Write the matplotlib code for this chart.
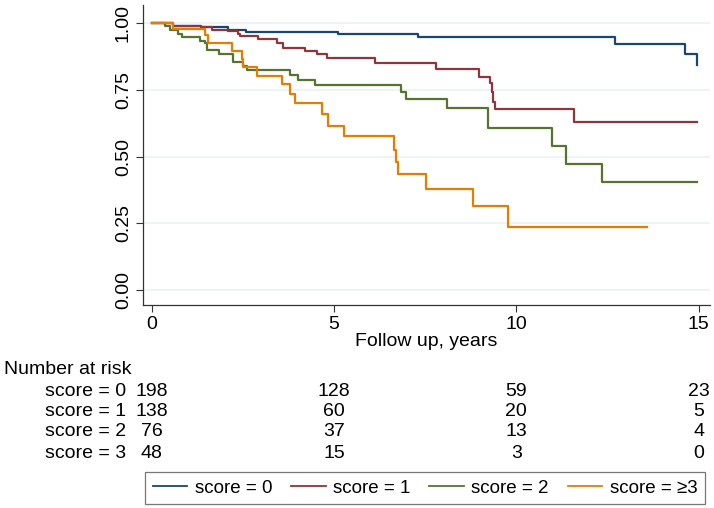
import matplotlib
matplotlib.use("Agg")
import matplotlib.pyplot as plt
from matplotlib.lines import Line2D
import matplotlib.transforms as mtransforms

plt.rcParams['font.family'] = ['Liberation Sans', 'DejaVu Sans']

# ===========================
# Survival curves
# ===========================
t0 = [0, 0.6, 1.37, 2.1, 2.6, 5.12, 7.3, 12.7, 14.63, 14.94]
s0 = [1.0, 0.991, 0.987, 0.977, 0.966, 0.959, 0.948, 0.921, 0.884, 0.844]

t1 = [0, 0.6, 1.37, 1.65, 2.1, 2.38, 2.42, 2.93, 3.43, 3.61, 4.2, 4.53, 4.82,
      6.12, 7.81, 8.97, 9.27, 9.32, 9.36, 9.41, 11.58, 14.94]
s1 = [1.0, 0.99, 0.987, 0.977, 0.971, 0.962, 0.952, 0.94, 0.927, 0.909, 0.896,
      0.884, 0.869, 0.852, 0.829, 0.80, 0.775, 0.744, 0.706, 0.678, 0.63, 0.63]

t2 = [0, 0.37, 0.5, 0.73, 0.83, 1.33, 1.47, 1.51, 1.86, 2.24, 2.52, 2.61, 3.79,
      4.02, 4.48, 6.85, 6.97, 8.09, 9.23, 10.98, 11.36, 12.35, 14.94]
s2 = [1.0, 0.991, 0.977, 0.962, 0.95, 0.935, 0.925, 0.902, 0.887, 0.856, 0.84,
      0.825, 0.806, 0.787, 0.769, 0.744, 0.716, 0.681, 0.609, 0.54, 0.471, 0.404, 0.404]

t3 = [0, 0.6, 1.47, 1.56, 2.2, 2.47, 2.52, 2.9, 3.57, 3.79, 3.93, 4.66, 4.84,
      5.28, 6.64, 6.7, 6.76, 7.51, 8.82, 9.78, 13.57]
s3 = [1.0, 0.979, 0.956, 0.925, 0.897, 0.868, 0.837, 0.802, 0.772, 0.735, 0.702,
      0.66, 0.616, 0.577, 0.525, 0.481, 0.434, 0.379, 0.315, 0.235, 0.235]

# ===========================
# Number at risk table
# ===========================
risk_times = [0, 5, 10, 15]
risk_labels = ['score = 0', 'score = 1', 'score = 2', 'score = 3']
risk_0 = [198, 128, 59, 23]
risk_1 = [138, 60, 20, 5]
risk_2 = [76, 37, 13, 4]
risk_3 = [48, 15, 3, 0]

legend_labels = ['score = 0', 'score = 1', 'score = 2', 'score = \u22653']
colors = ['#1a476f', '#90353b', '#55752f', '#e37e00']

fs = 14

# ===========================
# Plot
# ===========================
fig = plt.figure(figsize=(7.14, 5.08), dpi=100)
ax = fig.add_axes([0.2003, 0.3996, 0.7937, 0.59])

curves = [(t0, s0), (t1, s1), (t2, s2), (t3, s3)]
for (t, s), c in zip(curves, colors):
    ax.step(t, s, where='post', color=c, linewidth=1.6)

ax.set_xlim(-0.233, 15.30)
ax.set_ylim(-0.056, 1.068)
ax.set_xticks([0, 5, 10, 15])
ax.set_yticks([0, 0.25, 0.5, 0.75, 1.0])
ax.set_yticklabels(['0.00', '0.25', '0.50', '0.75', '1.00'], rotation=90, va='center')
ax.tick_params(labelsize=fs, length=5, width=0.8, color='#333333', pad=3)
ax.grid(axis='y', color='#eaf2f3', linewidth=1.2)
ax.set_axisbelow(True)
for side in ['top', 'right']:
    ax.spines[side].set_visible(False)
for side in ['left', 'bottom']:
    ax.spines[side].set_color('#333333')
    ax.spines[side].set_linewidth(0.9)
ax.set_xlabel('Follow up, years', fontsize=fs, labelpad=0)

# risk table below the axis
trans = mtransforms.blended_transform_factory(ax.transData, fig.transFigure)
fig.text(4 / 714, 1 - 369 / 508, 'Number at risk', fontsize=fs, va='center')
rows = [risk_0, risk_1, risk_2, risk_3]
row_y = [391, 411, 432, 453]
for lab, vals, py in zip(risk_labels, rows, row_y):
    yf = 1 - py / 508
    fig.text(126 / 714, yf, lab, fontsize=fs, va='center', ha='right')
    for tt, v in zip(risk_times, vals):
        fig.text(tt, yf, str(v), fontsize=fs, va='center', ha='center', transform=trans)

handles = [Line2D([0], [0], color=c, linewidth=1.3) for c in colors]
leg = fig.legend(handles, legend_labels, ncol=4, fontsize=13.5,
                 loc='center', bbox_to_anchor=(425 / 714, 1 - 488 / 508),
                 frameon=True, fancybox=False, handlelength=1.85, columnspacing=1.0,
                 handletextpad=0.4, borderpad=0.4, borderaxespad=0)
leg.get_frame().set_edgecolor('#555555')
leg.get_frame().set_linewidth(0.9)

fig.savefig('out.png', dpi=100)
